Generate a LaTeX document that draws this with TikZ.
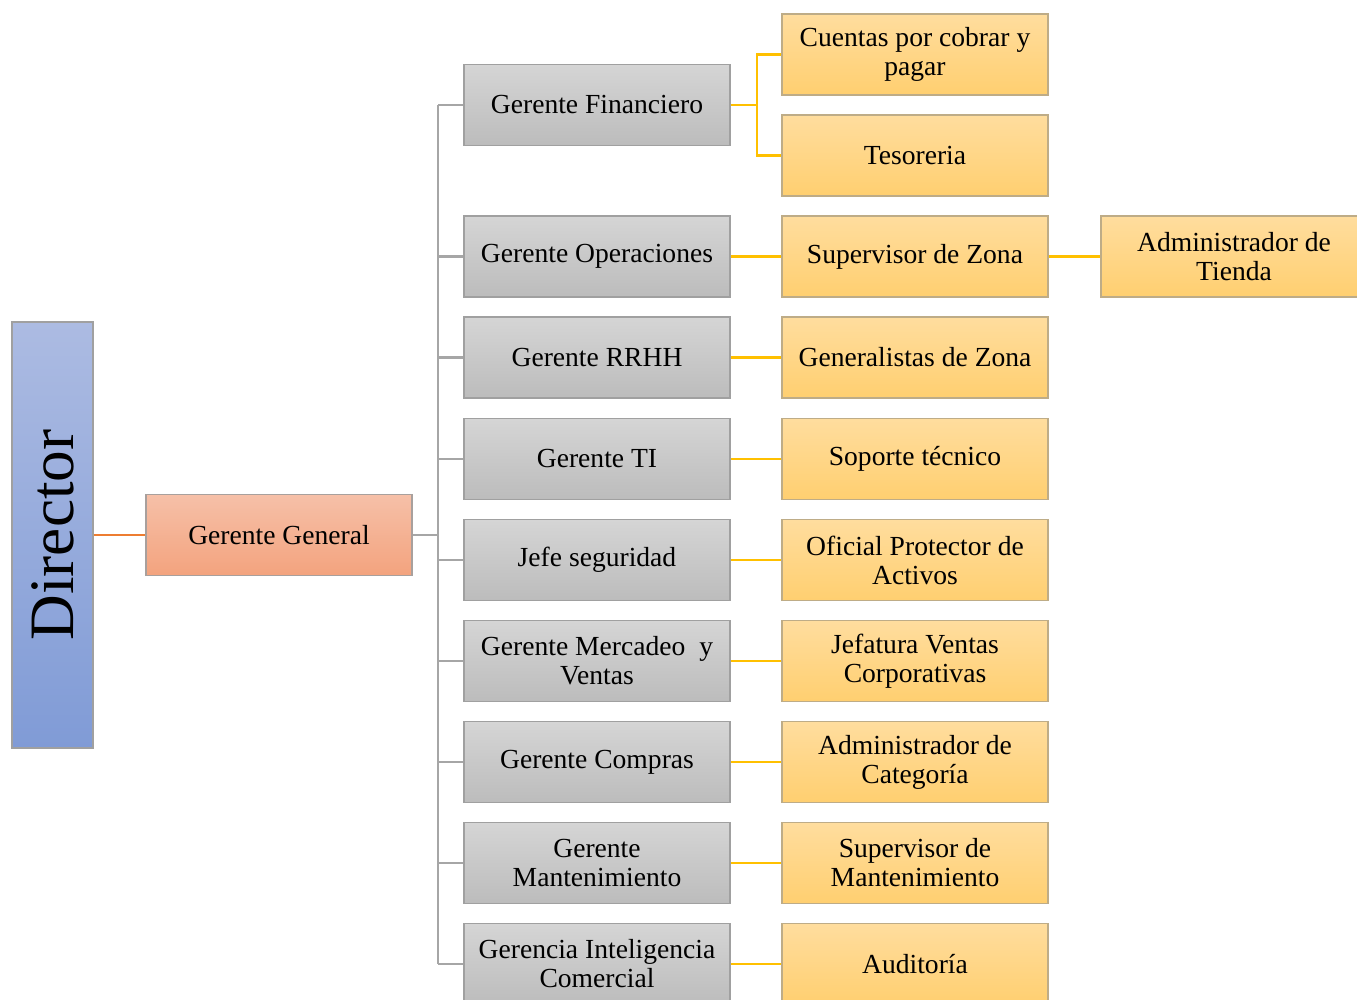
\documentclass[tikz,border=0pt]{standalone}
\usepackage{fontspec}
\setmainfont{Liberation Serif}
\usepackage{xcolor}

\definecolor{grisA}{RGB}{213,213,213}
\definecolor{grisB}{RGB}{188,188,188}
\definecolor{grisL}{RGB}{160,160,160}
\definecolor{amaA}{RGB}{255,221,158}
\definecolor{amaB}{RGB}{255,207,112}
\definecolor{amaL}{RGB}{190,172,135}
\definecolor{naA}{RGB}{246,192,168}
\definecolor{naB}{RGB}{243,163,126}
\definecolor{azA}{RGB}{172,187,226}
\definecolor{azB}{RGB}{128,155,214}
\definecolor{lineaG}{RGB}{166,166,166}
\definecolor{lineaY}{RGB}{255,192,0}
\definecolor{lineaO}{RGB}{237,125,49}

\begin{document}
\begin{tikzpicture}[x=0.02cm, y=-0.02cm,
    caja/.style={draw=grisL, line width=0.8pt, minimum width=5.32cm, minimum height=1.62cm,
        align=center, inner sep=2pt, font=\fontsize{15.7}{16.5}\selectfont},
    gris/.style={caja, top color=grisA, bottom color=grisB},
    amarillo/.style={caja, draw=amaL, top color=amaA, bottom color=amaB},
    naranja/.style={caja, draw=grisL!90!naB, top color=naA, bottom color=naB},
    gline/.style={draw=lineaG, line width=1.2pt},
    yline/.style={draw=lineaY, line width=1.2pt}]
    \useasboundingbox (0,0) rectangle (1357,1000);
    \clip (0,0) rectangle (1357,1000);

    \node[draw=grisL, line width=0.8pt, rotate=90, minimum width=8.52cm, minimum height=1.62cm,
        top color=azA, bottom color=azB, font=\fontsize{36}{40}\selectfont] (dir) at (52.5,535) {Director};
    \node[naranja] (gg) at (279,535) {Gerente General};

    \node[gris] (gfin) at (597,105) {Gerente Financiero};
    \node[gris] (gop) at (597,256.5) {Gerente Operaciones};
    \node[gris] (grrhh) at (597,357.5) {Gerente RRHH};
    \node[gris] (gti) at (597,459) {Gerente TI};
    \node[gris] (jseg) at (597,560) {Jefe seguridad};
    \node[gris] (gmer) at (597,661) {Gerente Mercadeo\ \ y\\Ventas};
    \node[gris] (gcom) at (597,762) {Gerente Compras};
    \node[gris] (gman) at (597,863) {Gerente\\Mantenimiento};
    \node[gris] (ginf) at (597,964) {Gerencia Inteligencia\\Comercial};

    \node[amarillo] (cxc) at (915,54.5) {Cuentas por cobrar y\\pagar};
    \node[amarillo] (tes) at (915,155.5) {Tesoreria};
    \node[amarillo] (supz) at (915,256.5) {Supervisor de Zona};
    \node[amarillo] (gen) at (915,357.5) {Generalistas de Zona};
    \node[amarillo] (sop) at (915,459) {Soporte técnico};
    \node[amarillo] (ofi) at (915,560) {Oficial Protector de\\Activos};
    \node[amarillo] (jven) at (915,661) {Jefatura Ventas\\Corporativas};
    \node[amarillo] (admc) at (915,762) {Administrador de\\Categoría};
    \node[amarillo] (supm) at (915,863) {Supervisor de\\Mantenimiento};
    \node[amarillo] (aud) at (915,964) {Auditoría};
    \node[amarillo] (admt) at (1234,256.5) {Administrador de\\Tienda};

    % director -> gerente general
    \draw[draw=lineaO, line width=1.2pt] (dir.south) -- (gg.west);

    % tronco gris
    \coordinate (tr) at (438,535);
    \draw[gline] (gg.east) -- (tr);
    \draw[gline] (tr |- gfin.west) -- (tr |- ginf.west);
    \foreach \n in {gfin,gop,grrhh,gti,jseg,gmer,gcom,gman,ginf}
        \draw[gline] (tr |- \n.west) -- (\n.west);

    % lineas amarillas
    \draw[yline] (gfin.east) -- ++(26,0) |- (cxc.west);
    \draw[yline] (gfin.east) -- ++(26,0) |- (tes.west);
    \foreach \a/\b in {gop/supz,grrhh/gen,gti/sop,jseg/ofi,gmer/jven,gcom/admc,gman/supm,ginf/aud,supz/admt}
        \draw[yline] (\a.east) -- (\b.west);
\end{tikzpicture}
\end{document}
